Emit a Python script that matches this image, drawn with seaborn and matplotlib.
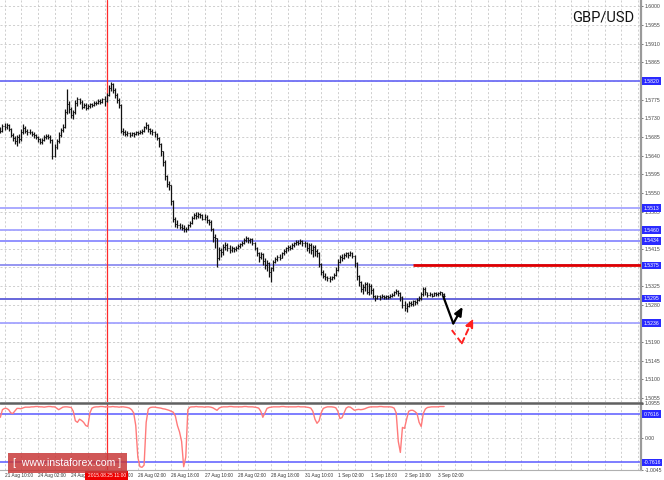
import matplotlib
matplotlib.use("Agg")
import matplotlib.pyplot as plt
import matplotlib.transforms as mtransforms
from matplotlib.patches import Rectangle
import numpy as np
import pandas as pd
import seaborn as sns

# ---------------- data (GBP/USD, H1 bars, first bar index -2) ----------------
first_bar = -2
first_open = 1.5704
closes = [
    1.5700, 1.5711, 1.5708, 1.5715, 1.5703, 1.5690, 1.5682, 1.5676, 1.5686, 1.5680,
    1.5698, 1.5707, 1.5700, 1.5696, 1.5698, 1.5692, 1.5689, 1.5685, 1.5680, 1.5672,
    1.5678, 1.5684, 1.5688, 1.5686, 1.5678, 1.5640, 1.5660, 1.5675, 1.5690, 1.5702,
    1.5710, 1.5745, 1.5765, 1.5752, 1.5738, 1.5745, 1.5768, 1.5776, 1.5770, 1.5758,
    1.5762, 1.5756, 1.5760, 1.5764, 1.5762, 1.5768, 1.5766, 1.5772, 1.5770, 1.5776,
    1.5772, 1.5786, 1.5804, 1.5812, 1.5798, 1.5786, 1.5774, 1.5762, 1.5700, 1.5698,
    1.5692, 1.5695, 1.5690, 1.5694, 1.5692, 1.5696, 1.5694, 1.5698, 1.5700, 1.5708,
    1.5714, 1.5704, 1.5700, 1.5696, 1.5692, 1.5683, 1.5668, 1.5650, 1.5625, 1.5590,
    1.5572, 1.5568, 1.5530, 1.5488, 1.5476, 1.5472, 1.5468, 1.5466, 1.5462, 1.5464,
    1.5472, 1.5478, 1.5490, 1.5496, 1.5494, 1.5498, 1.5496, 1.5488, 1.5492, 1.5484,
    1.5480, 1.5464, 1.5444, 1.5440, 1.5392, 1.5412, 1.5408, 1.5420, 1.5424, 1.5418,
    1.5412, 1.5416, 1.5414, 1.5418, 1.5422, 1.5426, 1.5430, 1.5436, 1.5440, 1.5436,
    1.5438, 1.5430, 1.5418, 1.5404, 1.5396, 1.5402, 1.5386, 1.5376, 1.5380, 1.5358,
    1.5368, 1.5384, 1.5390, 1.5396, 1.5394, 1.5404, 1.5410, 1.5416, 1.5420, 1.5418,
    1.5424, 1.5428, 1.5432, 1.5430, 1.5434, 1.5428, 1.5430, 1.5418, 1.5424, 1.5412,
    1.5420, 1.5410, 1.5404, 1.5378, 1.5360, 1.5350, 1.5346, 1.5344, 1.5342, 1.5346,
    1.5352, 1.5364, 1.5384, 1.5396, 1.5394, 1.5400, 1.5404, 1.5400, 1.5406, 1.5398,
    1.5380, 1.5350, 1.5336, 1.5318, 1.5322, 1.5330, 1.5312, 1.5326, 1.5316, 1.5300,
    1.5296, 1.5300, 1.5298, 1.5302, 1.5298, 1.5300, 1.5298, 1.5302, 1.5304, 1.5310,
    1.5314, 1.5308, 1.5298, 1.5280, 1.5272, 1.5278, 1.5284, 1.5282, 1.5288, 1.5286,
    1.5292, 1.5296, 1.5306, 1.5318, 1.5310, 1.5304, 1.5306, 1.5302, 1.5308, 1.5306,
    1.5308, 1.5310, 1.5306, 1.5302,
]
highs = [
    1.5708, 1.5716, 1.5718, 1.5719, 1.5717, 1.5706, 1.5694, 1.5688, 1.5690, 1.5692,
    1.5703, 1.5716, 1.5712, 1.5704, 1.5703, 1.5700, 1.5696, 1.5693, 1.5688, 1.5682,
    1.5683, 1.5689, 1.5692, 1.5692, 1.5690, 1.5680, 1.5668, 1.5680, 1.5696, 1.5707,
    1.5716, 1.5752, 1.5801, 1.5772, 1.5758, 1.5750, 1.5774, 1.5782, 1.5780, 1.5773,
    1.5768, 1.5766, 1.5764, 1.5768, 1.5768, 1.5772, 1.5772, 1.5776, 1.5776, 1.5780,
    1.5784, 1.5790, 1.5810, 1.5818, 1.5814, 1.5802, 1.5792, 1.5778, 1.5765, 1.5706,
    1.5702, 1.5700, 1.5698, 1.5698, 1.5697, 1.5700, 1.5700, 1.5702, 1.5704, 1.5712,
    1.5720, 1.5716, 1.5706, 1.5703, 1.5699, 1.5694, 1.5686, 1.5670, 1.5652, 1.5630,
    1.5594, 1.5578, 1.5570, 1.5534, 1.5492, 1.5484, 1.5478, 1.5474, 1.5472, 1.5468,
    1.5476, 1.5482, 1.5494, 1.5502, 1.5504, 1.5503, 1.5502, 1.5500, 1.5498, 1.5496,
    1.5488, 1.5484, 1.5466, 1.5450, 1.5442, 1.5420, 1.5418, 1.5426, 1.5432, 1.5428,
    1.5424, 1.5422, 1.5420, 1.5422, 1.5426, 1.5430, 1.5434, 1.5440, 1.5446, 1.5444,
    1.5442, 1.5440, 1.5432, 1.5420, 1.5408, 1.5408, 1.5404, 1.5392, 1.5388, 1.5384,
    1.5372, 1.5388, 1.5396, 1.5400, 1.5402, 1.5408, 1.5414, 1.5420, 1.5424, 1.5424,
    1.5428, 1.5432, 1.5436, 1.5436, 1.5438, 1.5436, 1.5434, 1.5432, 1.5428, 1.5428,
    1.5424, 1.5424, 1.5414, 1.5408, 1.5382, 1.5364, 1.5356, 1.5350, 1.5350, 1.5350,
    1.5356, 1.5370, 1.5390, 1.5400, 1.5402, 1.5406, 1.5408, 1.5408, 1.5410, 1.5408,
    1.5400, 1.5384, 1.5352, 1.5338, 1.5330, 1.5336, 1.5334, 1.5332, 1.5330, 1.5320,
    1.5304, 1.5304, 1.5304, 1.5306, 1.5304, 1.5304, 1.5304, 1.5306, 1.5308, 1.5314,
    1.5318, 1.5316, 1.5310, 1.5302, 1.5290, 1.5284, 1.5290, 1.5288, 1.5292, 1.5292,
    1.5296, 1.5300, 1.5312, 1.5324, 1.5322, 1.5312, 1.5310, 1.5308, 1.5312, 1.5312,
    1.5312, 1.5314, 1.5312, 1.5308,
]
lows = [
    1.5694, 1.5698, 1.5702, 1.5704, 1.5699, 1.5686, 1.5676, 1.5668, 1.5662, 1.5670,
    1.5676, 1.5692, 1.5694, 1.5690, 1.5691, 1.5687, 1.5683, 1.5680, 1.5674, 1.5668,
    1.5669, 1.5676, 1.5681, 1.5680, 1.5670, 1.5633, 1.5636, 1.5655, 1.5670, 1.5686,
    1.5698, 1.5706, 1.5740, 1.5744, 1.5731, 1.5728, 1.5740, 1.5760, 1.5765, 1.5752,
    1.5754, 1.5750, 1.5752, 1.5756, 1.5757, 1.5760, 1.5761, 1.5764, 1.5765, 1.5768,
    1.5760, 1.5770, 1.5784, 1.5796, 1.5792, 1.5780, 1.5768, 1.5756, 1.5694, 1.5690,
    1.5688, 1.5687, 1.5685, 1.5687, 1.5686, 1.5689, 1.5690, 1.5691, 1.5693, 1.5697,
    1.5704, 1.5698, 1.5692, 1.5690, 1.5686, 1.5678, 1.5660, 1.5640, 1.5616, 1.5580,
    1.5564, 1.5556, 1.5520, 1.5480, 1.5468, 1.5466, 1.5462, 1.5460, 1.5456, 1.5455,
    1.5460, 1.5468, 1.5476, 1.5488, 1.5488, 1.5490, 1.5490, 1.5484, 1.5484, 1.5478,
    1.5472, 1.5458, 1.5432, 1.5418, 1.5370, 1.5388, 1.5396, 1.5400, 1.5412, 1.5410,
    1.5406, 1.5408, 1.5408, 1.5410, 1.5414, 1.5418, 1.5422, 1.5426, 1.5432, 1.5430,
    1.5430, 1.5424, 1.5412, 1.5398, 1.5384, 1.5390, 1.5376, 1.5366, 1.5362, 1.5346,
    1.5336, 1.5362, 1.5380, 1.5386, 1.5388, 1.5392, 1.5400, 1.5406, 1.5410, 1.5412,
    1.5414, 1.5420, 1.5424, 1.5424, 1.5426, 1.5422, 1.5420, 1.5410, 1.5404, 1.5402,
    1.5396, 1.5398, 1.5396, 1.5370, 1.5352, 1.5344, 1.5340, 1.5338, 1.5336, 1.5340,
    1.5342, 1.5350, 1.5362, 1.5380, 1.5386, 1.5390, 1.5396, 1.5394, 1.5398, 1.5392,
    1.5370, 1.5340, 1.5326, 1.5310, 1.5306, 1.5314, 1.5306, 1.5304, 1.5306, 1.5296,
    1.5290, 1.5294, 1.5292, 1.5296, 1.5294, 1.5294, 1.5294, 1.5296, 1.5298, 1.5300,
    1.5306, 1.5302, 1.5290, 1.5272, 1.5264, 1.5262, 1.5274, 1.5276, 1.5278, 1.5280,
    1.5282, 1.5288, 1.5292, 1.5302, 1.5304, 1.5298, 1.5300, 1.5298, 1.5300, 1.5302,
    1.5302, 1.5304, 1.5300, 1.5298,
]
oscillator = [
    0.66, 0.90, 0.94, 0.94, 0.90, 0.80, 0.78, 0.86, 0.94, 0.94,
    0.93, 0.96, 0.98, 0.98, 0.98, 0.99, 0.99, 1.00, 1.00, 0.99,
    0.99, 0.98, 0.99, 1.00, 1.00, 0.99, 0.99, 0.95, 0.90, 0.94,
    0.98, 0.99, 0.99, 0.98, 0.97, 0.85, 0.55, 0.50, 0.60, 0.56,
    0.50, 0.40, 0.37, 0.80, 0.95, 0.98, 0.99, 0.99, 1.00, 1.00,
    0.99, 0.99, 0.99, 0.99, 1.00, 0.99, 0.99, 0.98, 0.99, 0.99,
    0.98, 0.97, 0.95, 0.90, 0.80, 0.40, -0.60, -0.90, -0.92, -0.85,
    0.50, 0.92, 0.97, 0.98, 0.98, 0.97, 0.96, 0.95, 0.93, 0.92,
    0.90, 0.88, 0.85, 0.82, 0.70, 0.40, 0.20, -0.10, -0.90, -0.60,
    0.90, 0.98, 0.99, 0.99, 1.00, 0.99, 0.99, 0.99, 0.98, 0.99,
    0.99, 0.98, 0.96, 0.92, 0.88, 0.95, 0.98, 0.99, 0.99, 0.99,
    1.00, 1.00, 0.99, 0.99, 0.99, 0.99, 0.99, 1.00, 1.00, 0.99,
    0.99, 0.99, 0.98, 0.97, 0.95, 0.85, 0.66, 0.80, 0.94, 0.97,
    0.98, 0.99, 0.99, 0.99, 0.99, 1.00, 1.00, 0.99, 0.99, 0.99,
    0.99, 0.99, 0.99, 1.00, 0.99, 0.99, 0.99, 0.98, 0.97, 0.95,
    0.85, 0.60, 0.47, 0.55, 0.80, 0.94, 0.97, 0.99, 0.99, 0.99,
    0.98, 0.96, 0.85, 0.62, 0.65, 0.80, 0.95, 0.99, 0.98, 0.93,
    0.88, 0.90, 0.91, 0.90, 0.91, 0.93, 0.96, 0.98, 0.99, 0.99,
    0.99, 0.99, 1.00, 1.00, 0.99, 0.99, 0.99, 0.99, 0.98, 0.95,
    0.80, -0.10, -0.45, 0.34, 0.31, 0.60, 0.85, 0.88, 0.88, 0.84,
    0.78, 0.50, 0.37, 0.78, 0.92, 0.97, 0.98, 0.99, 0.99, 0.99,
    0.99, 1.00, 1.00, 1.00,
]

time_tick_bars = [0, 16, 32, 48, 64, 80, 96, 112, 128, 144, 160, 176, 192, 208]
time_tick_labels = ["21 Aug 10:00", "24 Aug 02:00", "24 Aug 18:00", "25 Aug 10:00",
                    "26 Aug 02:00", "26 Aug 18:00", "27 Aug 10:00", "28 Aug 02:00",
                    "28 Aug 18:00", "31 Aug 10:00", "1 Sep 02:00", "1 Sep 18:00",
                    "2 Sep 10:00", "3 Sep 02:00"]
price_tick_labels = ["1.6000", "1.5955", "1.5910", "1.5865", "1.5820", "1.5775", "1.5730",
                     "1.5685", "1.5640", "1.5595", "1.5550", "1.5505", "1.5460", "1.5415",
                     "1.5370", "1.5325", "1.5280", "1.5235", "1.5190", "1.5145", "1.5100",
                     "1.5055"]
levels = [1.5820, 1.5513, 1.5460, 1.5434, 1.5375, 1.5295, 1.5236]
level_labels = ["1.5820", "1.5513", "1.5460", "1.5434", "1.5375", "1.5295", "1.5236"]
level_colors = ["#6e6ef5", "#a4a4ff", "#a4a4ff", "#8a8aff", "#8c8cf0", "#5c5cd8", "#a4a4ff"]
red_level = 1.5375
red_level_start_bar = 196
marker_bar = 49
marker_label = "2015.08.25 11:00"
osc_levels = [0.7616, -0.7616]
osc_level_labels = ["0.7616", "-0.7616"]
osc_tick_values = [1.0955, 0.0, -1.0045]
osc_tick_labels = ["1.0955", "0.00", "-1.0045"]
black_path_bars = [210.6, 215.4, 219.9]
black_path_prices = [1.5300, 1.5235, 1.5275]
red_path_bars = [214.7, 219.5, 225.0]
red_path_prices = [1.5219, 1.5187, 1.5247]
title = "GBP/USD"
watermark = "[  www.instaforex.com ]"

# ---------------- figure ----------------
sns.set_style("white")
plt.rcParams["font.family"] = ["Liberation Sans", "DejaVu Sans"]

W, H = 664, 480
fig = plt.figure(figsize=(W / 100, H / 100), dpi=100)
fig.patch.set_facecolor("white")


def box(l, t, r, b):
    return [l / W, 1 - b / H, (r - l) / W, (b - t) / H]


ax = fig.add_axes(box(0, 0, 641, 402))
axi = fig.add_axes(box(0, 403.5, 641, 470))

n = min(len(closes), len(highs), len(lows))
bars = np.arange(first_bar, first_bar + n)
df = pd.DataFrame({"bar": bars, "close": closes[:n], "high": highs[:n], "low": lows[:n]})
df["open"] = [first_open] + list(df["close"].iloc[:-1])

xlim = (-2.16, 305.5)
price_vals = [float(s) for s in price_tick_labels]
grid_bars = list(range(0, 305, 8))
grid_kw = dict(color="#c8c8c8", lw=0.6, ls=(0, (2.5, 2.5)), zorder=0)

for a in (ax, axi):
    a.set_xlim(*xlim)
    a.set_facecolor("white")
    for g in grid_bars:
        a.axvline(g, **grid_kw)
    for s in ("left", "top", "bottom"):
        a.spines[s].set_visible(False)
    a.spines["right"].set_color("#9a9a9a")
    a.spines["right"].set_linewidth(1.6)
    a.set_xticks([])
    a.set_xlabel("")
    a.set_ylabel("")

# main panel
ax.set_ylim(1.50454, 1.60155)
for p in price_vals:
    ax.axhline(p, **grid_kw)
for lv, c in zip(levels, level_colors):
    ax.axhline(lv, color=c, lw=1.3, zorder=1)
ax.hlines(red_level, red_level_start_bar, xlim[1], color="#e00000", lw=2.0, zorder=3)
ax.axvline(marker_bar, color="#ff2a2a", lw=0.9, zorder=2)

ax.vlines(df["bar"], df["low"], df["high"], color="#111111", lw=0.9, zorder=4)
ax.hlines(df["open"], df["bar"] - 0.45, df["bar"], color="#111111", lw=0.7, zorder=4)
ax.hlines(df["close"], df["bar"], df["bar"] + 0.45, color="#111111", lw=0.7, zorder=4)

# forecast arrows
ax.plot(black_path_bars[:2], black_path_prices[:2], color="black", lw=1.6, zorder=5,
        solid_capstyle="round")
ax.annotate("", xy=(black_path_bars[2], black_path_prices[2]),
            xytext=(black_path_bars[1], black_path_prices[1]),
            arrowprops=dict(arrowstyle="-|>,head_length=0.5,head_width=0.22", color="black",
                            lw=1.6, shrinkA=0, shrinkB=0), zorder=5)
ax.plot(red_path_bars[:2], red_path_prices[:2], color="#ff2020", lw=1.4, ls=(0, (3, 2)),
        zorder=5)
ax.annotate("", xy=(red_path_bars[2], red_path_prices[2]),
            xytext=(red_path_bars[1], red_path_prices[1]),
            arrowprops=dict(arrowstyle="-|>,head_length=0.5,head_width=0.22", color="#ff2020",
                            lw=1.4, ls=(0, (3, 2)), shrinkA=0, shrinkB=0), zorder=5)

# right price scale; labels that sit fully under a level box are left blank
covered = {"1.5820", "1.5460", "1.5370", "1.5235"}
ax.yaxis.tick_right()
ax.set_yticks(price_vals)
ax.set_yticklabels(["" if s in covered else s for s in price_tick_labels])
ax.tick_params(axis="y", labelsize=3.7, length=1.5, width=0.5, pad=1.2,
               colors="#444444", right=True, left=False)

lab_tr = mtransforms.blended_transform_factory(ax.transAxes, ax.transData)
for lv, txt in zip(levels, level_labels):
    ax.text(643.5 / 641, lv, txt, transform=lab_tr, ha="left", va="center", fontsize=3.7,
            color="white", zorder=10, clip_on=False,
            bbox=dict(boxstyle="square,pad=0.25", fc="#2a2aff", ec="none"))

# oscillator panel
osc_df = pd.DataFrame({"bar": bars[:len(oscillator)], "value": oscillator[:n]})
sns.lineplot(data=osc_df, x="bar", y="value", ax=axi, color="#ff7a7a", lw=1.0,
             legend=False, zorder=3)
axi.set_ylim(-1.0045, 1.0955)
axi.axhline(0.0, **grid_kw)
for lv in osc_levels:
    axi.axhline(lv, color="#5a5aff", lw=1.1, zorder=2)
axi.axvline(marker_bar, color="#ff2a2a", lw=0.9, zorder=2)
axi.set_xlim(*xlim)
axi.set_xlabel("")
axi.set_ylabel("")
axi.yaxis.tick_right()
axi.set_yticks(osc_tick_values)
axi.set_yticklabels(osc_tick_labels)
axi.tick_params(axis="y", labelsize=3.7, length=1.5, width=0.5, pad=1.2,
                colors="#444444", right=True, left=False)
axi.spines["bottom"].set_visible(True)
axi.spines["bottom"].set_color("#b0b0b0")
axi.spines["bottom"].set_linewidth(0.8)
lab_tri = mtransforms.blended_transform_factory(axi.transAxes, axi.transData)
for lv, txt in zip(osc_levels, osc_level_labels):
    axi.text(643.5 / 641, lv, txt, transform=lab_tri, ha="left", va="center", fontsize=3.7,
             color="white", zorder=10, clip_on=False,
             bbox=dict(boxstyle="square,pad=0.25", fc="#2a2aff", ec="none"))

# separator between panels
fig.add_artist(plt.Line2D([0, 642 / W], [1 - 402.5 / H, 1 - 402.5 / H],
                          transform=fig.transFigure, color="#606060", lw=1.8))

# time labels
tim_tr = mtransforms.blended_transform_factory(axi.transData, fig.transFigure)
for b, txt in zip(time_tick_bars, time_tick_labels):
    fig.text(b, 1 - 475.5 / H, txt, transform=tim_tr, ha="left", va="center",
             fontsize=3.4, color="#333333")
fig.text(marker_bar, 1 - 475.5 / H, marker_label, transform=tim_tr, ha="center",
         va="center", fontsize=3.5, color="white", zorder=12,
         bbox=dict(boxstyle="square,pad=0.45", fc="#ee0000", ec="none"))

# title
fig.text(634 / W, 1 - 17.5 / H, title, ha="right", va="center", fontsize=10.5,
         family=["Roboto", "DejaVu Sans"], color="#111111")

# watermark
fig.add_artist(Rectangle((8 / W, 1 - 472.5 / H), 119 / W, 19.5 / H, transform=fig.transFigure,
                         fc="#c83a3a", ec="none", alpha=0.85, zorder=20))
fig.text(67.5 / W, 1 - 462.5 / H, watermark, ha="center", va="center", fontsize=7.6,
         family=["Liberation Sans", "DejaVu Sans"], color="white", zorder=21)

fig.savefig("out.png", dpi=100, facecolor="white")
